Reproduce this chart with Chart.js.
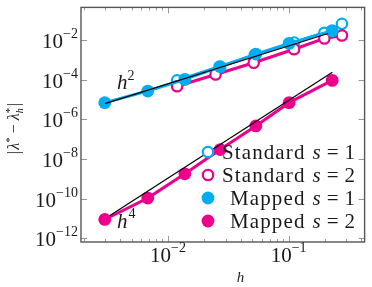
<!DOCTYPE html>
<html>
<head>
<meta charset="utf-8">
<script src="https://cdn.jsdelivr.net/npm/chart.js@4/dist/chart.umd.min.js"></script>
<style>
html,body{margin:0;padding:0;background:#fff}
#wrap{width:372px;height:287px}
</style>
</head>
<body>
<div id="wrap"><canvas id="errChart"></canvas></div>
<script>
var cyan = '#00aeef'
var magenta = '#ec008c'

// values (log-log)
var hStandard1 = [0.0119, 0.0267, 0.0525, 0.111, 0.198, 0.277]
var errStandard1 = [9.5e-5, 4.7e-4, 1.82e-3, 7.9e-3, 2.45e-2, 6.9e-2]
var hStandard2 = [0.0119, 0.0248, 0.0514, 0.111, 0.198, 0.277]
var errStandard2 = [4.8e-5, 1.9e-4, 7.4e-4, 3.6e-3, 1.26e-2, 1.78e-2]
var hMapped = [0.00299, 0.0068, 0.0138, 0.0271, 0.0535, 0.101, 0.230]
var errMapped1 = [7.1e-6, 2.75e-5, 1.07e-4, 4.7e-4, 2.04e-3, 7.1e-3, 3.1e-2]
var errMapped2 = [8.7e-12, 1.05e-10, 1.78e-9, 3.0e-8, 4.7e-7, 7.1e-6, 9.5e-5]
var hRef2 = [0.0030, 0.213]
var errRef2 = [6.3e-6, 2.24e-2]
var hRef4 = [0.00328, 0.2307]
var errRef4 = [1.35e-11, 2.45e-4]

var xMajorTicks = [0.01, 0.1]
var xMinorTicks = [0.002, 0.003, 0.004, 0.005, 0.006, 0.007, 0.008, 0.009,
  0.02, 0.03, 0.04, 0.05, 0.06, 0.07, 0.08, 0.09, 0.2, 0.3, 0.4]
var yMajorTicks = [1e-12, 1e-10, 1e-8, 1e-6, 1e-4, 1e-2]

var serif = '"Liberation Serif", "Times New Roman", serif'

var toPoints = function(xs, ys){
  return xs.map(function(x, i){ return {x: x, y: ys[i]} })
}

var textWidth = function(ctx, t, ls){
  if(!ls) return ctx.measureText(t).width
  var w = 0
  for(var i = 0; i < t.length; i++) w += ctx.measureText(t[i]).width + ls
  return w
}

var runWidth = function(ctx, runs){
  var w = 0
  runs.forEach(function(r){
    ctx.font = r.font
    var rw = textWidth(ctx, r.t, r.ls)
    if(r.sub){
      ctx.font = r.subFont
      rw = Math.max(rw, ctx.measureText(r.sub).width)
    }
    w += rw + (r.gap || 0)
  })
  return w
}

var drawRuns = function(ctx, runs, x, y, align){
  var w = runWidth(ctx, runs)
  var cx = x
  if(align === 'right') cx = x - w
  if(align === 'center') cx = x - w / 2
  ctx.textAlign = 'left'
  ctx.textBaseline = 'alphabetic'
  runs.forEach(function(r){
    ctx.font = r.font
    if(r.ls){
      var px = cx
      for(var i = 0; i < r.t.length; i++){
        ctx.fillText(r.t[i], px, y + (r.dy || 0))
        px += ctx.measureText(r.t[i]).width + r.ls
      }
    } else {
      ctx.fillText(r.t, cx, y + (r.dy || 0))
    }
    var rw = textWidth(ctx, r.t, r.ls)
    if(r.sub){
      ctx.font = r.subFont
      ctx.fillText(r.sub, cx, y + r.subDy)
      rw = Math.max(rw, ctx.measureText(r.sub).width)
    }
    cx += rw + (r.gap || 0)
  })
}

var powerRuns = function(v){
  var e = Math.round(Math.log10(v))
  return [
    {t: '10', font: '21px ' + serif},
    {t: (e < 0 ? '\u2212' : '') + Math.abs(e), font: '14px ' + serif, dy: -10}
  ]
}

var axesPlugin = {
  id: 'pgfAxes',
  afterDraw: function(chart){
    var ctx = chart.ctx
    var area = chart.chartArea
    var xs = chart.scales.x
    var ys = chart.scales.y
    ctx.save()

    // inward ticks
    ctx.strokeStyle = '#9a9a9a'
    ctx.lineWidth = 1
    ctx.beginPath()
    xMinorTicks.forEach(function(v){
      var px = Math.round(xs.getPixelForValue(v)) + 0.5
      ctx.moveTo(px, area.bottom); ctx.lineTo(px, area.bottom - 3)
      ctx.moveTo(px, area.top); ctx.lineTo(px, area.top + 3)
    })
    xMajorTicks.forEach(function(v){
      var px = Math.round(xs.getPixelForValue(v)) + 0.5
      ctx.moveTo(px, area.bottom); ctx.lineTo(px, area.bottom - 6)
      ctx.moveTo(px, area.top); ctx.lineTo(px, area.top + 6)
    })
    yMajorTicks.forEach(function(v){
      var py = Math.round(ys.getPixelForValue(v)) + 0.5
      ctx.moveTo(area.left, py); ctx.lineTo(area.left + 6, py)
      ctx.moveTo(area.right, py); ctx.lineTo(area.right - 6, py)
    })
    ctx.stroke()

    // frame
    ctx.strokeStyle = '#555'
    ctx.lineWidth = 1.4
    ctx.strokeRect(area.left, area.top, area.right - area.left, area.bottom - area.top)

    ctx.fillStyle = '#1a1a1a'
    yMajorTicks.forEach(function(v){
      drawRuns(ctx, powerRuns(v), area.left - 3, ys.getPixelForValue(v) + 8, 'right')
    })
    xMajorTicks.forEach(function(v){
      drawRuns(ctx, powerRuns(v), xs.getPixelForValue(v), area.bottom + 20, 'center')
    })

    // axis titles
    ctx.font = 'italic 15px ' + serif
    ctx.textAlign = 'center'
    ctx.fillText('h', xs.getPixelForValue(0.04) , 282)

    ctx.save()
    ctx.translate(19, (area.top + area.bottom) / 2 + 4)
    ctx.rotate(-Math.PI / 2)
    var f = '16px ' + serif
    var fi = 'italic 16px ' + serif
    var fs = '11px ' + serif
    var fsi = 'italic 10px ' + serif
    drawRuns(ctx, [
      {t: '|', font: f, gap: 1.5},
      {t: '\u03bb', font: fi},
      {t: '*', font: fs, dy: -6, gap: 4},
      {t: '\u2212', font: f, gap: 4},
      {t: '\u03bb', font: fi},
      {t: '*', font: fs, dy: -6, sub: 'h', subFont: fsi, subDy: 4, gap: 1.5},
      {t: '|', font: f}
    ], 0, 0, 'center')
    ctx.restore()

    // slope labels
    drawRuns(ctx, [
      {t: 'h', font: 'italic 21px ' + serif},
      {t: '2', font: '14px ' + serif, dy: -9}
    ], 117, 89, 'left')
    drawRuns(ctx, [
      {t: 'h', font: 'italic 21px ' + serif, gap: 1},
      {t: '4', font: '14px ' + serif, dy: -10}
    ], 117, 228, 'left')

    // legend
    var rows = chart.data.datasets.filter(function(d){ return d.legendRow !== undefined })
    rows.forEach(function(d){
      var cy = 152 + d.legendRow * 23
      ctx.beginPath()
      ctx.arc(208, cy, d.pointRadius, 0, Math.PI * 2)
      ctx.fillStyle = d.pointBackgroundColor
      ctx.fill()
      if(d.pointBorderWidth > 0){
        ctx.lineWidth = d.pointBorderWidth
        ctx.strokeStyle = d.borderColor
        ctx.stroke()
      }
      var parts = d.label.split(' ')
      ctx.fillStyle = '#1a1a1a'
      drawRuns(ctx, [
        {t: parts[0], font: '21px ' + serif, ls: 1.1, gap: 7},
        {t: 's', font: 'italic 21px ' + serif, gap: 6},
        {t: '=', font: '21px ' + serif, gap: 6},
        {t: parts[3], font: '21px ' + serif}
      ], 355, cy + 7, 'right')
    })

    ctx.restore()
  }
}

var seriesLine = function(label, xs, ys, color, filled, row, order){
  return {
    label: label,
    data: toPoints(xs, ys),
    showLine: true,
    borderColor: color,
    backgroundColor: color,
    borderWidth: 3,
    pointRadius: filled ? 6.4 : 5.2,
    pointHoverRadius: filled ? 6.4 : 5.2,
    pointBorderWidth: filled ? 0 : 2.2,
    pointBorderColor: color,
    pointBackgroundColor: filled ? color : '#ffffff',
    legendRow: row,
    order: order
  }
}

var refLine = function(label, xs, ys){
  return {
    label: label,
    data: toPoints(xs, ys),
    showLine: true,
    borderColor: '#000',
    borderWidth: 1.2,
    pointRadius: 0,
    order: 1
  }
}

var errChart = new Chart(document.getElementById('errChart'), {
  type: 'scatter',
  data: {
    datasets: [
      seriesLine('Standard s = 1', hStandard1, errStandard1, cyan, false, 0, 6),
      seriesLine('Standard s = 2', hStandard2, errStandard2, magenta, false, 1, 5),
      seriesLine('Mapped s = 1', hMapped, errMapped1, cyan, true, 2, 4),
      seriesLine('Mapped s = 2', hMapped, errMapped2, magenta, true, 3, 3),
      refLine('h2', hRef2, errRef2),
      refLine('h4', hRef4, errRef4)
    ]
  },
  options: {
    responsive: true,
    maintainAspectRatio: false,
    animation: false,
    layout: {padding: {left: 81, right: 1, top: 1, bottom: 45}},
    plugins: {legend: {display: false}, tooltip: {enabled: false}},
    scales: {
      x: {
        type: 'logarithmic',
        bounds: 'data',
        min: 0.0019,
        max: 0.427,
        ticks: {display: false},
        grid: {display: false},
        border: {display: false},
        afterFit: function(scale){ scale.height = 0 }
      },
      y: {
        type: 'logarithmic',
        bounds: 'data',
        min: 6.3e-13,
        max: 0.47,
        ticks: {display: false},
        grid: {display: false},
        border: {display: false},
        afterFit: function(scale){ scale.width = 0 }
      }
    }
  },
  plugins: [axesPlugin]
})
</script>
</body>
</html>
